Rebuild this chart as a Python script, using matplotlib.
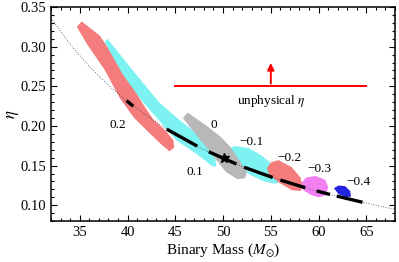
import matplotlib
matplotlib.use("Agg")
import matplotlib.pyplot as plt
from matplotlib.ticker import MultipleLocator

plt.rcParams["font.family"] = ["Liberation Serif", "DejaVu Serif"]
plt.rcParams["mathtext.fontset"] = "stix"

# constant chirp-mass curve (dotted)
curve_m = [32, 34, 36, 38, 40, 42, 44, 46, 48, 50, 52, 54, 56, 58, 60, 62, 64, 66, 68]
curve_eta = [0.336, 0.303, 0.275, 0.2515, 0.231, 0.213, 0.197, 0.183, 0.170, 0.159,
             0.149, 0.140, 0.132, 0.124, 0.117, 0.111, 0.1055, 0.100, 0.095]

# posterior regions, one per spin value
red02_x = [34.7, 35.8, 37.6, 39.2, 40.7, 42.3, 43.6, 44.4, 44.9, 44.8, 44.0, 42.7, 41.6, 39.5, 37.1, 35.2]
red02_y = [0.325, 0.3025, 0.271, 0.235, 0.210, 0.191, 0.176, 0.168, 0.173, 0.182, 0.194, 0.208, 0.228, 0.271, 0.314, 0.332]
cyan01_x = [37.9, 40.9, 43.3, 45.2, 46.5, 48.0, 49.1, 49.3, 48.9, 47.2, 45.1, 43.1, 41.6, 39.5, 37.6]
cyan01_y = [0.310, 0.265, 0.230, 0.210, 0.1975, 0.182, 0.167, 0.149, 0.149, 0.165, 0.182, 0.210, 0.230, 0.265, 0.306]
cyanm1_x = [50.4, 51.2, 52.7, 54.0, 55.0, 55.8, 56.2, 55.5, 54.3, 52.9, 51.7, 50.6]
cyanm1_y = [0.170, 0.175, 0.172, 0.163, 0.153, 0.142, 0.132, 0.127, 0.130, 0.138, 0.148, 0.160]
gray0_x = [46.3, 48.2, 49.8, 50.8, 51.7, 52.5, 52.3, 51.5, 50.3, 49.3, 47.8, 46.5, 45.8]
gray0_y = [0.217, 0.201, 0.186, 0.173, 0.157, 0.142, 0.134, 0.133, 0.142, 0.157, 0.180, 0.199, 0.210]
redm2_x = [54.6, 55.0, 55.8, 57.2, 58.1, 58.4, 58.1, 57.2, 55.8, 54.8]
redm2_y = [0.147, 0.154, 0.157, 0.148, 0.135, 0.123, 0.118, 0.119, 0.129, 0.139]
magm3_x = [58.2, 58.7, 59.7, 60.7, 61.0, 60.8, 60.0, 59.2, 58.4]
magm3_y = [0.128, 0.135, 0.137, 0.132, 0.123, 0.113, 0.110, 0.113, 0.119]
bluem4_x = [61.6, 62.1, 62.8, 63.3, 63.4, 62.9, 62.1]
bluem4_y = [0.1215, 0.125, 0.124, 0.118, 0.111, 0.110, 0.114]

# best-fit tracks (black dashes) along the curve: (m0, eta0, m1, eta1)
tracks = [(39.9, 0.232, 40.6, 0.225), (44.1, 0.196, 47.3, 0.1746),
          (48.5, 0.1675, 51.4, 0.152), (52.2, 0.148, 55.2, 0.135),
          (56.0, 0.1318, 58.6, 0.1222), (59.8, 0.1181, 61.2, 0.1136),
          (61.9, 0.1116, 64.6, 0.1038)]
star_m, star_eta = 50.1, 0.159

spin_labels = ["0.2", "0.1", "0", "\u22120.1", "\u22120.2", "\u22120.3", "\u22120.4"]
label_m = [39.0, 47.0, 49.0, 53.0, 57.0, 60.1, 64.2]
label_eta = [0.201, 0.142, 0.201, 0.180, 0.1595, 0.1456, 0.129]

fig = plt.figure(figsize=(3.99, 2.62), dpi=100)
ax = fig.add_axes([0.128, 0.156, 0.862, 0.817])

regions = [(red02_x, red02_y, "#f47c7c"), (cyan01_x, cyan01_y, "#7cf2f2"),
           (cyanm1_x, cyanm1_y, "#7cf2f2"), (gray0_x, gray0_y, "#b8b8b8"),
           (redm2_x, redm2_y, "#f47c7c"), (magm3_x, magm3_y, "#f280f2"),
           (bluem4_x, bluem4_y, "#2424e0")]
for xs, ys, c in regions:
    ax.fill(xs, ys, color=c, lw=0)

ax.plot(curve_m, curve_eta, ls=(0, (1, 2)), color="#444444", lw=0.6)
for m0, e0, m1, e1 in tracks:
    ax.plot([m0, m1], [e0, e1], color="black", lw=2.4, solid_capstyle="butt")
ax.plot(star_m, star_eta, marker="*", color="black", ms=7)

for s, m, e in zip(spin_labels, label_m, label_eta):
    ax.text(m, e, s, ha="center", va="center", fontsize=9.5)

# unphysical eta bound
ax.plot([45, 65], [0.25, 0.25], color="red", lw=1.4)
ax.annotate("", xy=(55, 0.283), xytext=(55, 0.25),
            arrowprops=dict(arrowstyle="-|>", color="red", lw=1.4, mutation_scale=10))
ax.text(55, 0.232, r"unphysical $\eta$", ha="center", va="center", fontsize=9.5)

ax.set_xlim(32, 68)
ax.set_ylim(0.08, 0.35)
ax.xaxis.set_major_locator(MultipleLocator(5))
ax.xaxis.set_minor_locator(MultipleLocator(1))
ax.yaxis.set_major_locator(MultipleLocator(0.05))
ax.yaxis.set_minor_locator(MultipleLocator(0.01))
ax.yaxis.set_major_formatter(plt.FormatStrFormatter("%.2f"))
ax.tick_params(which="both", direction="in", top=True, right=True, labelsize=10.5, width=0.8)
ax.tick_params(which="major", length=4)
ax.tick_params(which="minor", length=2)
for sp in ax.spines.values():
    sp.set_linewidth(1.1)
ax.set_xlabel(r"Binary Mass ($M_{\odot}$)", fontsize=11, labelpad=2)
ax.set_ylabel(r"$\eta$", fontsize=12)
ax.yaxis.set_label_coords(-0.087, 0.5)

fig.savefig("out.png", dpi=100)
